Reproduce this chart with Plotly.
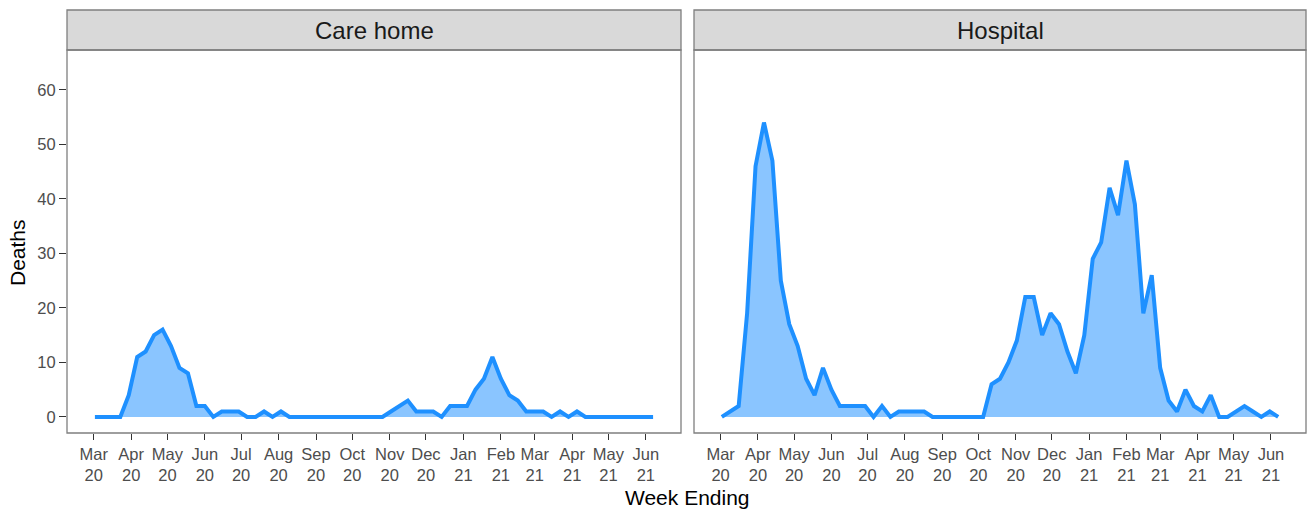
import pandas as pd
import plotly.graph_objects as go

# ---- data ----
week_start = "2020-03-02"
n_weeks = 67
care_home = [0, 0, 0, 0, 4, 11, 12, 15, 16, 13, 9, 8, 2, 2, 0, 1, 1, 1, 0, 0,
             1, 0, 1, 0, 0, 0, 0, 0, 0, 0, 0, 0, 0, 0, 0, 1, 2, 3, 1, 1,
             1, 0, 2, 2, 2, 5, 7, 11, 7, 4, 3, 1, 1, 1, 0, 1, 0, 1, 0, 0,
             0, 0, 0, 0, 0, 0, 0]
hospital = [0, 1, 2, 19, 46, 54, 47, 25, 17, 13, 7, 4, 9, 5, 2, 2, 2, 2, 0, 2,
            0, 1, 1, 1, 1, 0, 0, 0, 0, 0, 0, 0, 6, 7, 10, 14, 22, 22, 15, 19,
            17, 12, 8, 15, 29, 32, 42, 37, 47, 39, 19, 26, 9, 3, 1, 5, 2, 1, 4, 0,
            0, 1, 2, 1, 0, 1, 0]
panels = ["Care home", "Hospital"]
tick_dates = pd.date_range("2020-03-01", "2021-06-01", freq="MS")
tick_labels = [f"{d.strftime('%b')}<br>{d.strftime('%y')}" for d in tick_dates]
y_ticks = [0, 10, 20, 30, 40, 50, 60]

dates = pd.date_range(week_start, periods=n_weeks, freq="7D")

# ---- style ----
LINE = "#1E90FF"
FILL = "rgba(30,144,255,0.52)"
BORDER = "#7F7F7F"
STRIP = "#D9D9D9"
TICKC = "#4D4D4D"
FONT = "Liberation Sans, Arial, sans-serif"

fig = go.Figure()
series = [care_home, hospital]
axes = [("x", "y"), ("x2", "y2")]
for vals, (xa, ya) in zip(series, axes):
    fig.add_trace(go.Scatter(x=dates, y=vals, mode="lines", fill="tozeroy",
                             fillcolor=FILL, line=dict(color=LINE, width=4),
                             xaxis=xa, yaxis=ya, showlegend=False,
                             hoverinfo="x+y"))

span = dates[-1] - dates[0]
xr = [dates[0] - span * 0.05, dates[-1] + span * 0.05]
yr = [-2.95, 67.3]

W, H = 1307, 510
ml, mr, mt, mb = 67, 1, 10, 77
pw = W - ml - mr
ph = H - mt - mb
d1 = [0, (681 - ml) / pw]
d2 = [(694 - ml) / pw, 1]
ytop = (433 - 50) / ph

xcommon = dict(range=xr, tickvals=tick_dates, ticktext=tick_labels,
               ticks="outside", ticklen=6, tickwidth=1.2, tickcolor="#333333",
               tickfont=dict(size=16.5, color=TICKC, family=FONT),
               showgrid=False, zeroline=False, showline=False)
fig.update_layout(
    width=W, height=H,
    margin=dict(l=ml, r=mr, t=mt, b=mb),
    paper_bgcolor="white", plot_bgcolor="white",
    font=dict(family=FONT),
    xaxis=dict(domain=d1, anchor="y", **xcommon),
    xaxis2=dict(domain=d2, anchor="y2", **xcommon),
    yaxis=dict(domain=[0, ytop], anchor="x", range=yr, tickvals=y_ticks,
               ticks="outside", ticklen=7, tickwidth=1.2, tickcolor="#333333",
               tickfont=dict(size=16.5, color=TICKC, family=FONT),
               showgrid=False, zeroline=False, showline=False),
    yaxis2=dict(domain=[0, ytop], anchor="x2", range=yr, showticklabels=False,
                ticks="", showgrid=False, zeroline=False, showline=False),
)

# panel borders and strips
shapes = []
annotations = []
for dom, name in zip([d1, d2], panels):
    shapes.append(dict(type="rect", xref="paper", yref="paper",
                       x0=dom[0], x1=dom[1], y0=0, y1=ytop,
                       line=dict(color=BORDER, width=1.3), fillcolor="rgba(0,0,0,0)",
                       layer="above"))
    shapes.append(dict(type="rect", xref="paper", yref="paper",
                       x0=dom[0], x1=dom[1], y0=ytop, y1=1,
                       line=dict(color=BORDER, width=1.3), fillcolor=STRIP,
                       layer="below"))
    annotations.append(dict(text=name, xref="paper", yref="paper",
                            x=(dom[0] + dom[1]) / 2, y=(ytop + 1) / 2,
                            showarrow=False, xanchor="center", yanchor="middle",
                            font=dict(size=24, color="#1A1A1A", family=FONT)))

annotations.append(dict(text="Week Ending", xref="paper", yref="paper",
                        x=(687 - ml) / pw, y=-(497 - 433) / ph,
                        showarrow=False, xanchor="center", yanchor="middle",
                        font=dict(size=21, color="black", family=FONT)))
annotations.append(dict(text="Deaths", xref="paper", yref="paper",
                        x=-(ml - 18) / pw, y=(433 - 252) / ph, textangle=-90,
                        showarrow=False, xanchor="center", yanchor="middle",
                        font=dict(size=21, color="black", family=FONT)))
fig.update_layout(shapes=shapes, annotations=annotations)

fig.write_html("out.html", config={"displayModeBar": False},
               post_script="document.body.style.margin='0';document.body.style.overflow='hidden';")
